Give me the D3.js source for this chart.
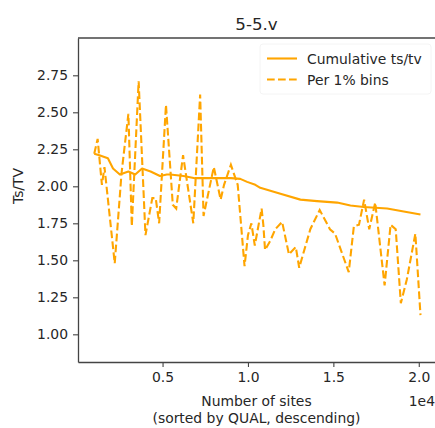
<!DOCTYPE html>
<html>
<head>
<meta charset="utf-8">
<script src="https://cdn.jsdelivr.net/npm/d3@7"></script>
<style>
  body { margin: 0; background: #fff; }
  text { font-family: "DejaVu Sans", sans-serif; fill: #262626; }
</style>
</head>
<body>
<div id="chart"></div>
<script>
// size of the window
var w = 435, h = 428;
var margin = {top: 38, right: 0, bottom: 66, left: 78};

// per 1% bins (number of sites, ts/tv)
var binSites = [1000, 1200, 1450, 1600, 2200, 2600, 3000, 3200, 3600, 4000,
    4400, 4600, 4800, 5200, 5600, 5800, 6200, 6800, 7200, 7400,
    8000, 8400, 8600, 9000, 9400, 9800, 10000, 10200, 10400, 10800,
    10900, 11000, 11300, 11600, 12000, 12400, 12800, 13000, 13650, 14200,
    14800, 15100, 15900, 16200, 16500, 16800, 17100, 17450, 18000, 18350,
    18650, 18950, 19300, 19800, 20100];
var binTsTv = [2.22, 2.32, 2.01, 2.13, 1.48, 2.09, 2.49, 1.73, 2.71, 1.67,
    1.92, 1.92, 1.75, 2.55, 1.875, 1.85, 2.21, 1.75, 2.62, 1.80,
    2.13, 1.91, 2.01, 2.145, 2.01, 1.46, 1.67, 1.75, 1.60, 1.85,
    1.74, 1.57, 1.63, 1.71, 1.76, 1.54, 1.59, 1.45, 1.71, 1.84,
    1.71, 1.68, 1.42, 1.73, 1.74, 1.91, 1.71, 1.89, 1.33, 1.74,
    1.71, 1.21, 1.37, 1.68, 1.13];

// cumulative ts/tv
var cumSites = [1000, 1300, 1800, 2100, 2500, 3000, 3400, 3800, 4300, 4850,
    5250, 5450, 6230, 6900, 8000, 9000, 9550, 9950, 10430, 10720,
    11900, 13070, 14040, 15220, 16000, 16780, 18150, 19120, 20100];
var cumTsTv = [2.22, 2.21, 2.19, 2.12, 2.08, 2.10, 2.08, 2.12, 2.10, 2.07,
    2.08, 2.08, 2.07, 2.055, 2.055, 2.055, 2.05, 2.03, 2.01, 1.99,
    1.95, 1.91, 1.90, 1.89, 1.87, 1.86, 1.85, 1.83, 1.81];

var yTicks = [1.00, 1.25, 1.50, 1.75, 2.00, 2.25, 2.50, 2.75];
var xTicks = [5000, 10000, 15000, 20000];
var xTickLabels = ["0.5", "1.0", "1.5", "2.0"];

var lineColor = "orange";

var width = w - margin.left - margin.right,
    height = h - margin.top - margin.bottom;

var xScale = d3.scaleLinear()
    .domain([50, 20950])
    .range([0, width]);

var yScale = d3.scaleLinear()
    .domain([0.813, 3.002])
    .range([height, 0]);

var svg = d3.select("#chart")
    .append("svg")
    .attr("width", w)
    .attr("height", h);

var g = svg.append("g").attr("transform", "translate(" + margin.left + "," + margin.top + ")");

var line = d3.line()
    .x(function(d) { return xScale(d[0]); })
    .y(function(d) { return yScale(d[1]); });

g.append("path")
    .datum(d3.zip(binSites, binTsTv))
    .attr("fill", "none")
    .attr("stroke", lineColor)
    .attr("stroke-width", 2.1)
    .attr("stroke-dasharray", "7.7,3.3")
    .attr("d", line);

g.append("path")
    .datum(d3.zip(cumSites, cumTsTv))
    .attr("fill", "none")
    .attr("stroke", lineColor)
    .attr("stroke-width", 2.1)
    .attr("stroke-linejoin", "round")
    .attr("d", line);

// axes
var xAxis = g.append("g")
    .attr("transform", "translate(0," + height + ")")
    .call(d3.axisBottom(xScale).tickValues(xTicks)
        .tickFormat(function(d, i) { return xTickLabels[i]; })
        .tickSize(5).tickPadding(5).tickSizeOuter(0));

var yAxis = g.append("g")
    .call(d3.axisLeft(yScale).tickValues(yTicks)
        .tickFormat(d3.format(".2f"))
        .tickSize(5).tickPadding(5).tickSizeOuter(0));

[xAxis, yAxis].forEach(function(a) {
  a.select(".domain").attr("stroke", "#444").attr("stroke-width", 1.3);
  a.selectAll(".tick line").attr("stroke", "#444").attr("stroke-width", 1.1);
  a.selectAll(".tick text").attr("font-size", 13.9)
      .attr("font-family", "DejaVu Sans").attr("fill", "#262626");
});

// top spine (right one falls outside the window)
g.append("line")
    .attr("x1", 0).attr("x2", width)
    .attr("y1", 0).attr("y2", 0)
    .attr("stroke", "#444").attr("stroke-width", 1.3);

// title and labels
svg.append("text")
    .attr("x", margin.left + width / 2)
    .attr("y", 30)
    .attr("text-anchor", "middle")
    .attr("font-size", 16.7)
    .text("5-5.v");

svg.append("text")
    .attr("transform", "translate(23,186) rotate(-90)")
    .attr("text-anchor", "middle")
    .attr("font-size", 13.9)
    .text("Ts/TV");

svg.append("text")
    .attr("x", margin.left + width / 2)
    .attr("y", 406)
    .attr("text-anchor", "middle")
    .attr("font-size", 13.9)
    .text("Number of sites");

svg.append("text")
    .attr("x", margin.left + width / 2)
    .attr("y", 423)
    .attr("text-anchor", "middle")
    .attr("font-size", 13.9)
    .text("(sorted by QUAL, descending)");

svg.append("text")
    .attr("x", 435)
    .attr("y", 406)
    .attr("text-anchor", "end")
    .attr("font-size", 13.9)
    .text("1e4");

// legend
var legendItems = [
  {label: "Cumulative ts/tv", dash: null},
  {label: "Per 1% bins", dash: "7.7,3.3"}
];

var legend = svg.append("g").attr("transform", "translate(260,44)");

legend.append("rect")
    .attr("x", 0).attr("y", 0)
    .attr("width", 171).attr("height", 50)
    .attr("rx", 3)
    .attr("fill", "#fff").attr("fill-opacity", 0.8)
    .attr("stroke", "#f4f4f4");

legendItems.forEach(function(d, i) {
  var yy = 14.5 + i * 21;
  legend.append("line")
      .attr("x1", 7).attr("x2", 37)
      .attr("y1", yy).attr("y2", yy)
      .attr("stroke", lineColor)
      .attr("stroke-width", 2.1)
      .attr("stroke-dasharray", d.dash);
  legend.append("text")
      .attr("x", 47).attr("y", yy + 5)
      .attr("font-size", 13.9)
      .text(d.label);
});
</script>
</body>
</html>
